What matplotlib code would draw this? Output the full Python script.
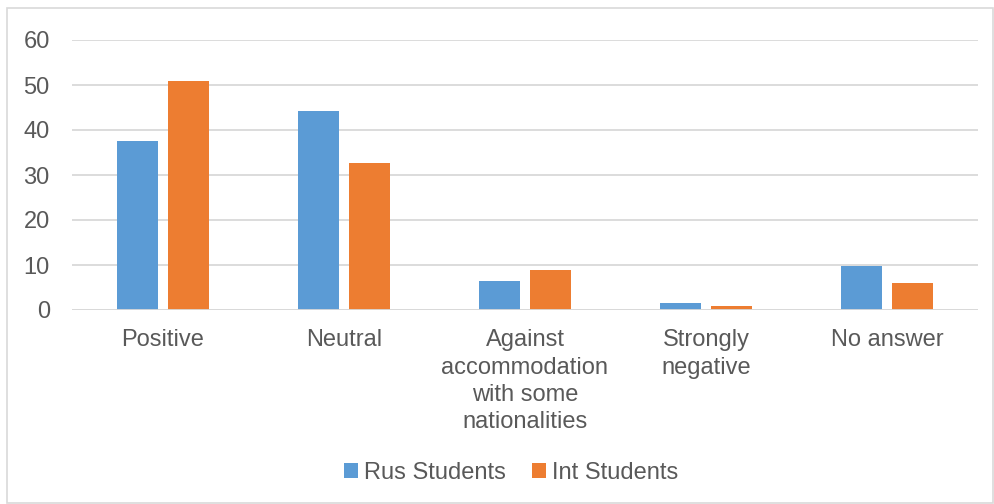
import numpy as np
import matplotlib.pyplot as plt
from matplotlib.patches import Rectangle

# Chart data
categories = ["Positive", "Neutral", "Against\naccommodation\nwith some\nnationalities",
              "Strongly\nnegative", "No answer"]
rus_students = [37.6, 44.3, 6.5, 1.6, 9.8]
int_students = [50.9, 32.7, 9.0, 1.0, 6.0]
series_names = ["Rus Students", "Int Students"]

plt.rcParams["font.family"] = ["Liberation Sans", "DejaVu Sans"]
text_color = "#595959"
grid_color = "#d9d9d9"
fs = 17

fig = plt.figure(figsize=(9.95, 5.04), dpi=100)
ax = fig.add_axes([72 / 995, 1 - 310 / 504, 906 / 995, 270 / 504])

x = np.arange(len(categories))
width = 0.226
offset = 0.1406
ax.bar(x - offset, rus_students, width, color="#5B9BD5", label=series_names[0], zorder=3)
ax.bar(x + offset, int_students, width, color="#ED7D31", label=series_names[1], zorder=3)

ax.set_xlim(-0.5, len(categories) - 0.5)
ax.set_ylim(0, 60)
ax.set_yticks(range(0, 61, 10))
ax.yaxis.grid(True, color=grid_color, linewidth=1.3, zorder=0)
ax.set_axisbelow(True)
for s in ax.spines.values():
    s.set_visible(False)
ax.tick_params(axis="both", length=0, labelsize=fs, colors=text_color)
ax.tick_params(axis="y", pad=16)
ax.tick_params(axis="x", pad=14)
ax.set_xticks(x)
ax.set_xticklabels(categories, linespacing=1.31, va="top")
ax.axhline(0, color=grid_color, linewidth=1.3, zorder=4)

leg = fig.legend(loc="center", bbox_to_anchor=(0.514, 1 - 473 / 504), ncol=2, frameon=False,
                 fontsize=fs, handlelength=0.6, handleheight=0.6, handletextpad=0.25,
                 columnspacing=1.1)
for t in leg.get_texts():
    t.set_color(text_color)

# outer chart border
fig.patches.append(Rectangle((7 / 995, 0.002), 986 / 995, 1 - 9 / 504, transform=fig.transFigure,
                             fill=False, edgecolor=grid_color, linewidth=1.2))

fig.savefig("out.png", dpi=100)
